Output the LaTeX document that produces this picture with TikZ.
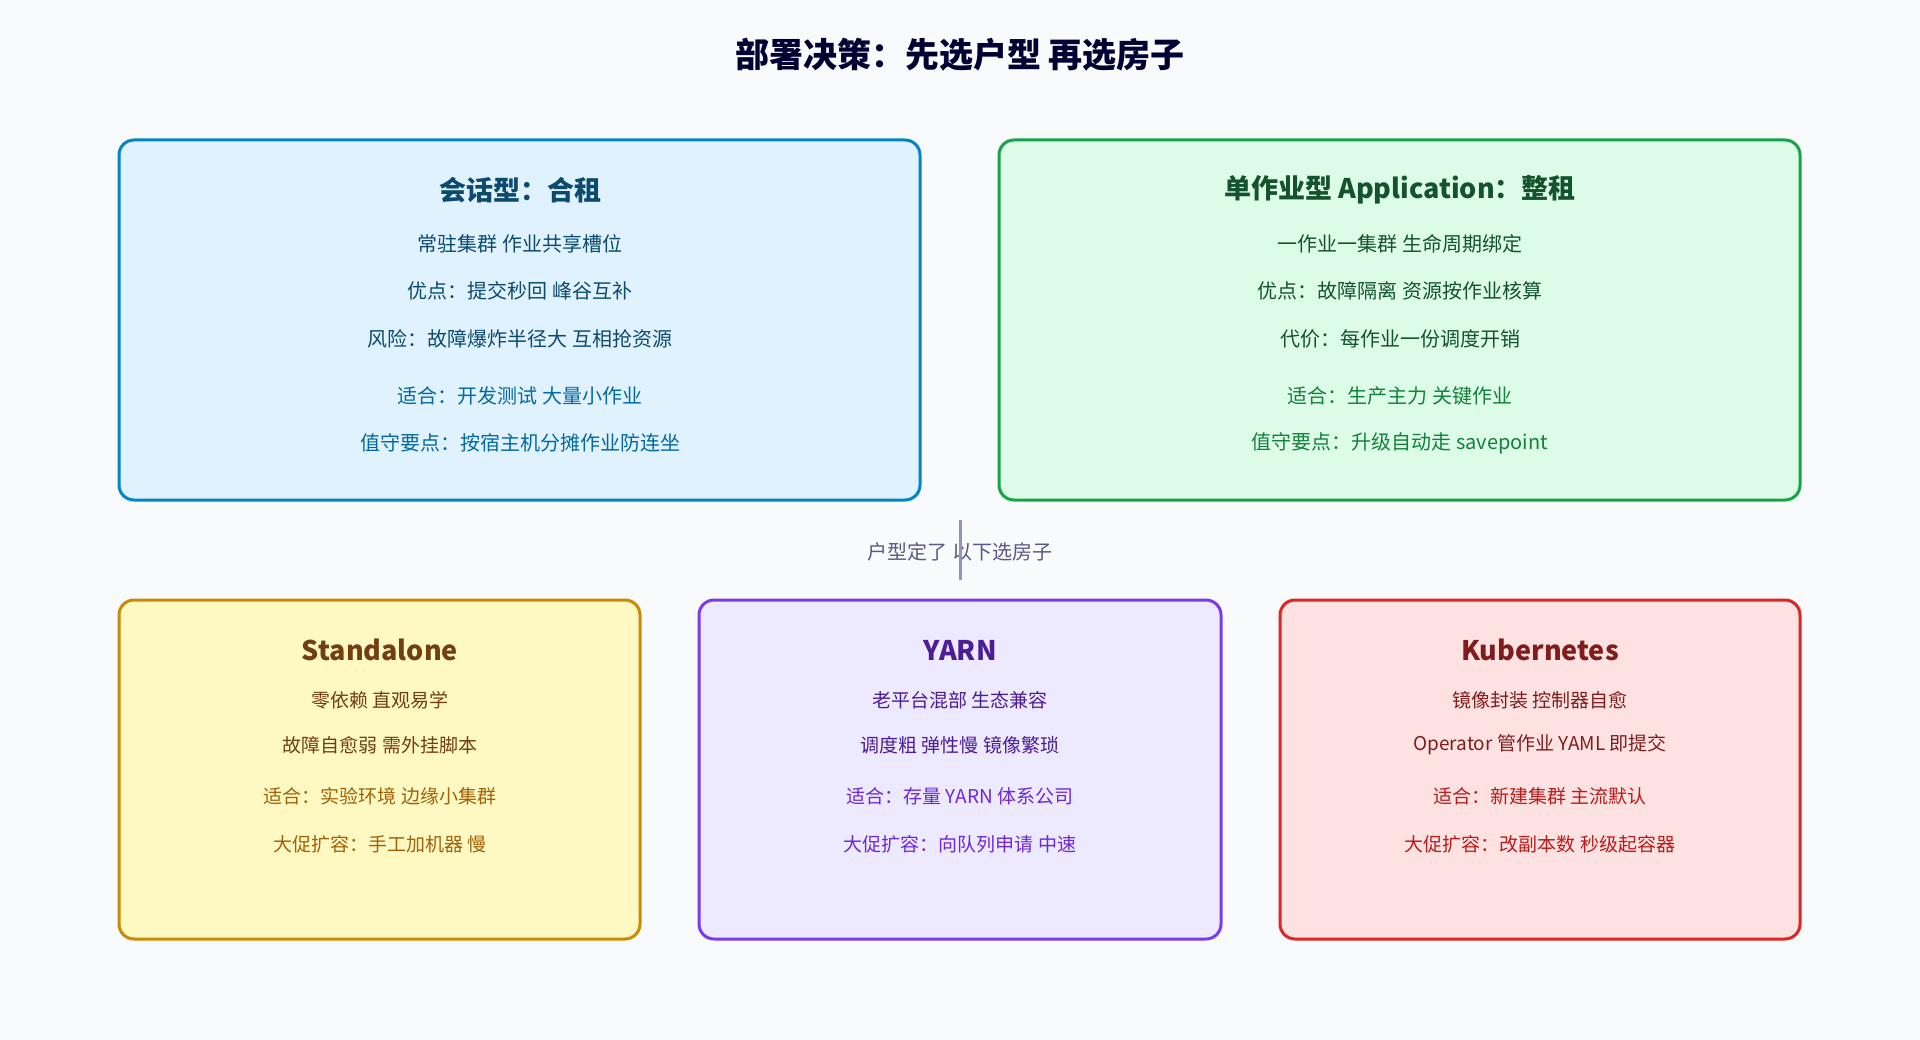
\documentclass[tikz,border=0pt]{standalone}
\usepackage{fontspec}
\setmainfont{Noto Sans CJK SC}
\definecolor{bg}{HTML}{F8FAFC}
\definecolor{bF}{HTML}{E0F2FE}\definecolor{bB}{HTML}{0284C7}\definecolor{bH}{HTML}{0C4A6E}\definecolor{bT}{HTML}{0369A1}
\definecolor{gF}{HTML}{DCFCE7}\definecolor{gB}{HTML}{16A34A}\definecolor{gH}{HTML}{14532D}\definecolor{gT}{HTML}{15803D}
\definecolor{yF}{HTML}{FEF9C3}\definecolor{yB}{HTML}{CA8A04}\definecolor{yH}{HTML}{713F12}\definecolor{yT}{HTML}{A16207}
\definecolor{pF}{HTML}{EDE9FE}\definecolor{pB}{HTML}{7C3AED}\definecolor{pH}{HTML}{4C1D95}\definecolor{pT}{HTML}{6D28D9}
\definecolor{rF}{HTML}{FEE2E2}\definecolor{rB}{HTML}{DC2626}\definecolor{rH}{HTML}{7F1D1D}\definecolor{rT}{HTML}{B91C1C}
\begin{document}
\begin{tikzpicture}[x=1pt,y=-1pt,
 box/.style={draw,line width=3pt,rounded corners=15pt},
 hd/.style={font=\fontsize{27}{30}\selectfont\bfseries},
 tx/.style={font=\fontsize{20}{24}\selectfont},
 sx/.style={font=\fontsize{19}{23}\selectfont}]
\fill[bg] (0,0) rectangle (1920,1040);
\useasboundingbox (0,0) rectangle (1920,1040);
\node[font=\fontsize{34}{40}\selectfont\bfseries,text=black!80!blue] (title) at (960,55) {部署决策：先选户型 再选房子};
% top left
\draw[box,draw=bB,fill=bF] (119,140) rectangle (920,500);
\node[hd,text=bH] (a0) at (520,190) {会话型：合租};
\node[tx,text=bH] (a1) at (520,244) {常驻集群 作业共享槽位};
\node[tx,text=bH] (a2) at (520,291) {优点：提交秒回 峰谷互补};
\node[tx,text=bH] (a3) at (520,339) {风险：故障爆炸半径大 互相抢资源};
\node[tx,text=bT] (a4) at (520,396) {适合：开发测试 大量小作业};
\node[tx,text=bT] (a5) at (520,443) {值守要点：按宿主机分摊作业防连坐};
% top right
\draw[box,draw=gB,fill=gF] (999,140) rectangle (1800,500);
\node[hd,text=gH] (b0) at (1400,190) {单作业型 Application：整租};
\node[tx,text=gH] (b1) at (1400,244) {一作业一集群 生命周期绑定};
\node[tx,text=gH] (b2) at (1400,291) {优点：故障隔离 资源按作业核算};
\node[tx,text=gH] (b3) at (1400,339) {代价：每作业一份调度开销};
\node[tx,text=gT] (b4) at (1400,396) {适合：生产主力 关键作业};
\node[tx,text=gT] (b5) at (1400,443) {值守要点：升级自动走 savepoint};
% middle
\coordinate (m1) at (960,520);
\coordinate (m2) at (960,580);
\node[font=\fontsize{20}{24}\selectfont,text=black!45!blue!30!gray] (mid) at (960,552) {户型定了 以下选房子};
\draw[line width=3pt,draw=blue!20!gray!70] (m1) -- (m2);
% bottom
\draw[box,draw=yB,fill=yF] (119,600) rectangle (640,939);
\node[hd,text=yH] (c0) at (380,650) {Standalone};
\node[sx,text=yH] (c1) at (380,700) {零依赖 直观易学};
\node[sx,text=yH] (c2) at (380,745) {故障自愈弱 需外挂脚本};
\node[sx,text=yT] (c3) at (380,796) {适合：实验环境 边缘小集群};
\node[sx,text=yT] (c4) at (380,844) {大促扩容：手工加机器 慢};
\draw[box,draw=pB,fill=pF] (699,600) rectangle (1221,939);
\node[hd,text=pH] (d0) at (960,650) {YARN};
\node[sx,text=pH] (d1) at (960,700) {老平台混部 生态兼容};
\node[sx,text=pH] (d2) at (960,745) {调度粗 弹性慢 镜像繁琐};
\node[sx,text=pT] (d3) at (960,796) {适合：存量 YARN 体系公司};
\node[sx,text=pT] (d4) at (960,844) {大促扩容：向队列申请 中速};
\draw[box,draw=rB,fill=rF] (1280,600) rectangle (1800,939);
\node[hd,text=rH] (e0) at (1540,650) {Kubernetes};
\node[sx,text=rH] (e1) at (1540,700) {镜像封装 控制器自愈};
\node[sx,text=rH] (e2) at (1540,745) {Operator 管作业 YAML 即提交};
\node[sx,text=rT] (e3) at (1540,796) {适合：新建集群 主流默认};
\node[sx,text=rT] (e4) at (1540,844) {大促扩容：改副本数 秒级起容器};
\end{tikzpicture}
\end{document}
